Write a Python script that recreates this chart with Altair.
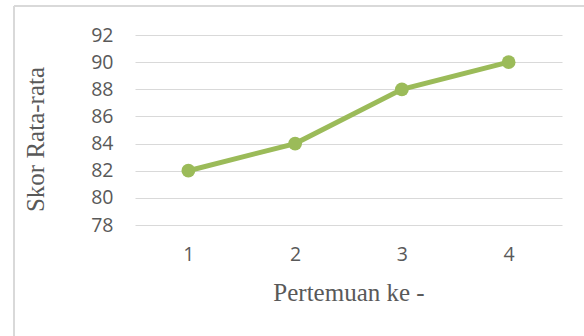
import altair as alt
import pandas as pd

meetings = ["1", "2", "3", "4"]
scores = [82, 84, 88, 90]
y_ticks = [78, 80, 82, 84, 86, 88, 90, 92]

df = pd.DataFrame({"Pertemuan": meetings, "Skor": scores})

GREEN = "#9BBB59"
GRID = "#D9D9D9"
TEXT = "#595959"

x = alt.X(
    "Pertemuan:N",
    sort=meetings,
    scale=alt.Scale(type="point", padding=0.5),
    axis=alt.Axis(
        title="Pertemuan ke -",
        labelAngle=0,
        labelFont="Open Sans",
        labelFontSize=19.5,
        labelColor=TEXT,
        labelPadding=20,
        ticks=False,
        tickSize=0,
        domain=False,
        grid=False,
        titleFont="Liberation Serif",
        titleFontSize=25,
        titleFontWeight="normal",
        titleColor=TEXT,
        titleBaseline="alphabetic",
        titleY=75,
    ),
)
y = alt.Y(
    "Skor:Q",
    scale=alt.Scale(domain=[78, 92], nice=False, zero=False),
    axis=alt.Axis(
        title="Skor Rata-rata",
        values=y_ticks,
        labelFont="Open Sans",
        labelFontSize=19.5,
        labelColor=TEXT,
        labelPadding=22,
        ticks=False,
        tickSize=0,
        domain=False,
        grid=True,
        gridColor=GRID,
        gridWidth=1,
        titleFont="Liberation Serif",
        titleFontSize=25,
        titleFontWeight="normal",
        titleColor=TEXT,
        titleAngle=270,
        titleBaseline="alphabetic",
        titleAlign="center",
        titleX=-92,
        titleY=104,
    ),
)

base = alt.Chart(df)
line = base.mark_line(color=GREEN, strokeWidth=5).encode(x=x, y=y)
pts = base.mark_point(filled=True, color=GREEN, size=190, opacity=1).encode(x=x, y=y)

border_left = alt.Chart(df).mark_rule(color=GRID, strokeWidth=2).encode(
    x=alt.value(-121), y=alt.value(-29), y2=alt.value(320)
)
border_top = alt.Chart(df).mark_rule(color=GRID, strokeWidth=2).encode(
    x=alt.value(-121), x2=alt.value(460), y=alt.value(-29)
)

chart = (
    alt.layer(border_left, border_top, line, pts)
    .properties(
        width=427,
        height=190,
        padding={"left": 135, "top": 35, "right": 22, "bottom": 111},
        autosize=alt.AutoSizeParams(type="none"),
        background="white",
    )
    .configure_view(stroke=None)
)

chart.save("out.html", embed_options={"renderer": "svg", "actions": False})
